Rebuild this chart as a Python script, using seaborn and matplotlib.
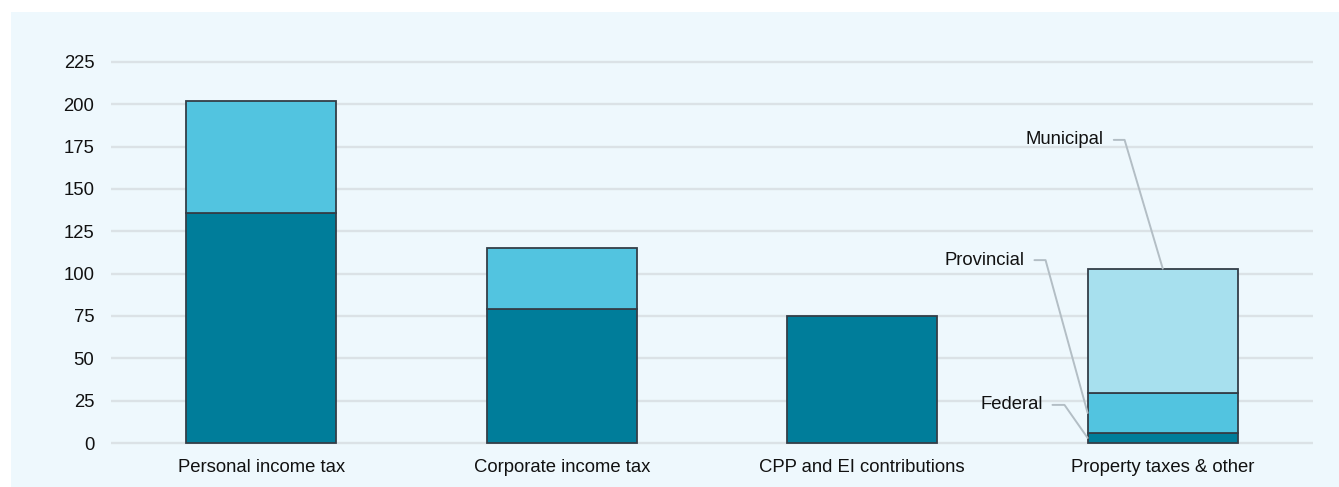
import numpy as np
import pandas as pd
import matplotlib
matplotlib.use("Agg")
import matplotlib.pyplot as plt
from matplotlib.patches import Rectangle
import seaborn as sns

# Revenue by source, split by level of government
categories = ["Personal income tax", "Corporate income tax",
              "CPP and EI contributions", "Property taxes & other"]
federal = [136, 79, 75, 6]
provincial = [66, 36, 0, 23.5]
municipal = [0, 0, 0, 73.5]
levels = ["Federal", "Provincial", "Municipal"]
y_ticks = [0, 25, 50, 75, 100, 125, 150, 175, 200, 225]

colors = {"Federal": "#007d9a", "Provincial": "#52c4e0", "Municipal": "#a7e0ee"}
edge = "#333e48"
panel = "#eef8fd"
grid = "#dbe2e6"
FS = 13.3

sns.set_theme(style="white")
plt.rcParams["font.family"] = ["Liberation Sans", "DejaVu Sans"]

W, H = 1339, 487
fig = plt.figure(figsize=(W / 100, H / 100), dpi=100, facecolor="white")
fig.patches.append(Rectangle((11 / W, 0), 1 - 11 / W, 1 - 12 / H,
                             transform=fig.transFigure, facecolor=panel,
                             edgecolor="none", zorder=-5))

ymin, ymax = -1, 230
px_per_unit = (443 - 62) / 225
top_px = 443 - ymax * px_per_unit
bot_px = 443 - ymin * px_per_unit
ax = fig.add_axes([111 / W, 1 - bot_px / H, (1313 - 111) / W, (bot_px - top_px) / H])
ax.set_facecolor("none")

df = pd.DataFrame({"category": categories, "Federal": federal,
                   "Provincial": provincial, "Municipal": municipal})
bottom = np.zeros(len(categories))
for lvl in levels:
    vals = df[lvl].to_numpy(dtype=float)
    mask = vals > 0
    sub = pd.DataFrame({"category": df["category"][mask], "value": vals[mask]})
    sns.barplot(data=sub, x="category", y="value", order=categories,
                color=colors[lvl], saturation=1, width=0.5,
                bottom=bottom[mask], edgecolor=edge, linewidth=1.3,
                ax=ax, zorder=3)
    bottom = bottom + vals

ax.set_xlim(-0.5, 3.5)
ax.set_ylim(ymin, ymax)
ax.set_yticks(y_ticks)
ax.set_xlabel("")
ax.set_ylabel("")
for s in ax.spines.values():
    s.set_visible(False)
ax.yaxis.grid(True, color=grid, linewidth=1.7, zorder=0)
ax.set_axisbelow(True)
ax.tick_params(axis="y", length=0, pad=12, labelsize=FS, labelcolor="#111111")
ax.tick_params(axis="x", length=0, pad=10.5, labelsize=FS, labelcolor="#111111")

# Leader-line labels for the stacked segments of the last bar
last = len(categories) - 1
half_w = 0.25
fed_v, prov_v, mun_v = federal[last], provincial[last], municipal[last]
labels = [
    # text, text anchor (x, y), stub start x, corner x, target point
    ("Municipal", 2.803, 179, 2.837, 2.873, (last, fed_v + prov_v + mun_v)),
    ("Provincial", 2.540, 108, 2.573, 2.610, (last - half_w, fed_v + prov_v * 0.5)),
    ("Federal", 2.600, 22.5, 2.633, 2.673, (last - half_w, fed_v * 0.5)),
]
for text, tx, ty, sx, cx, (px, py) in labels:
    ax.text(tx, ty, text, ha="right", va="center", fontsize=FS, color="#111111")
    ax.plot([sx, cx, px], [ty, ty, py], color="#b3bec5", linewidth=1.4,
            zorder=4, clip_on=False)

fig.savefig("out.png", dpi=100, facecolor="white")
